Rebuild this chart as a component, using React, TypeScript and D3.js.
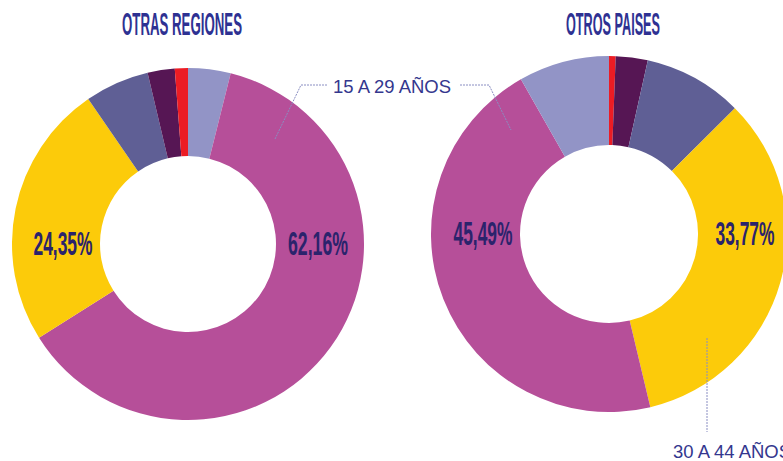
import React from 'react';
import * as d3 from 'd3';

// age groups, same colour set for both donuts
const groups = ['0 A 14 AÑOS', '15 A 29 AÑOS', '30 A 44 AÑOS', '45 A 64 AÑOS', '65 A 79 AÑOS', '80 Y MÁS'];
const groupColors = ['#9294c6', '#b64f99', '#fccb0a', '#5f5f95', '#561654', '#ec1c24'];

// OTRAS REGIONES, drawn clockwise from 12 o'clock
const regionesOrder = [0, 1, 2, 3, 4, 5];
const regionesValues = [3.9, 62.16, 24.35, 5.9, 2.49, 1.2];

// OTROS PAISES, drawn clockwise from 12 o'clock
const paisesOrder = [5, 4, 3, 2, 1, 0];
const paisesValues = [0.6, 2.9, 9.0, 33.77, 45.49, 8.24];

const W = 783;
const H = 461;

interface DonutProps {
  title: string;
  titleWidth: number;
  titleX: number;
  cx: number;
  cy: number;
  outer: number;
  inner: number;
  order: number[];
  values: number[];
  labels: { idx: number; dx: number; width: number }[];
}

const Donut: React.FC<DonutProps> = ({ title, titleWidth, titleX, cx, cy, outer, inner, order, values, labels }) => {
  const pie = d3.pie<number>().sort(null).value(d => d).startAngle(0).endAngle(2 * Math.PI);
  const arcs = pie(values);
  const arc = d3.arc<d3.PieArcDatum<number>>().innerRadius(inner).outerRadius(outer);
  const fmt = (v: number) => v.toFixed(2).replace('.', ',') + '%';

  return (
    <g>
      <text
        x={titleX}
        y={35}
        textAnchor="middle"
        textLength={titleWidth}
        lengthAdjust="spacingAndGlyphs"
        fontFamily="'Liberation Sans', Arial, sans-serif"
        fontWeight="bold"
        fontSize={32}
        fill="#2e3192"
      >
        {title}
      </text>
      <g transform={`translate(${cx},${cy})`}>
        {arcs.map((a, i) => (
          <path key={i} d={arc(a) || ''} fill={groupColors[order[i]]} />
        ))}
        {labels.map(l => (
          <text
            key={l.idx}
            x={l.dx}
            y={11}
            textAnchor="middle"
            textLength={l.width}
            lengthAdjust="spacingAndGlyphs"
            fontFamily="'Liberation Sans', Arial, sans-serif"
            fontWeight="bold"
            fontSize={33}
            fill="#2b236c"
          >
            {fmt(values[l.idx])}
          </text>
        ))}
      </g>
    </g>
  );
};

export default function App() {
  const leader = '#8a8ec2';
  return (
    <div style={{ position: 'absolute', left: 0, top: 0 }}>
      <svg width={W} height={H} style={{ display: 'block', background: '#fff' }}>
        <Donut
          title="OTRAS REGIONES"
          titleWidth={120}
          titleX={182}
          cx={188}
          cy={244}
          outer={176}
          inner={88}
          order={regionesOrder}
          values={regionesValues}
          labels={[{ idx: 1, dx: 130, width: 60 }, { idx: 2, dx: -125, width: 59 }]}
        />
        <Donut
          title="OTROS PAISES"
          titleWidth={94}
          titleX={613}
          cx={609}
          cy={234}
          outer={178}
          inner={89}
          order={paisesOrder}
          values={paisesValues}
          labels={[{ idx: 4, dx: -126, width: 59 }, { idx: 3, dx: 136, width: 59 }]}
        />
        {/* leader lines */}
        <polyline points="327,85 301,85 275,139" fill="none" stroke={leader} strokeWidth={1} strokeDasharray="2,1" />
        <polyline points="460,85 489,85 511,130" fill="none" stroke={leader} strokeWidth={1} strokeDasharray="2,1" />
        <line x1={707} y1={338} x2={707} y2={432} stroke={leader} strokeWidth={1} strokeDasharray="2,1" />
        <text
          x={333}
          y={93}
          textLength={118}
          lengthAdjust="spacingAndGlyphs"
          fontFamily="'Liberation Sans', Arial, sans-serif"
          fontSize={19}
          fill="#34378e"
        >
          {groups[1]}
        </text>
        <text
          x={673}
          y={458}
          fontFamily="'Liberation Sans', Arial, sans-serif"
          fontSize={19}
          fill="#34378e"
          textLength={118}
          lengthAdjust="spacingAndGlyphs"
        >
          {groups[2]}
        </text>
      </svg>
    </div>
  );
}
